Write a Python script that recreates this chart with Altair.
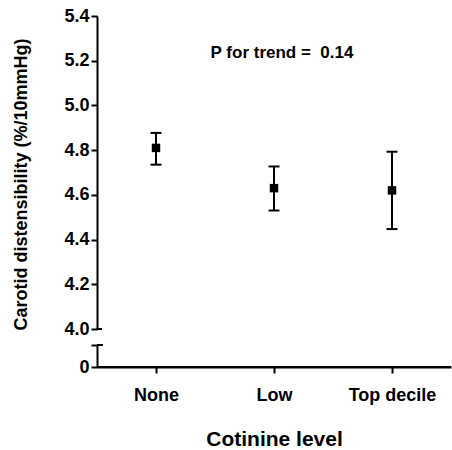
import altair as alt
import pandas as pd

# Data
CATEGORIES = ["None", "Low", "Top decile"]
MEANS = [4.81, 4.63, 4.62]
LOWER = [4.735, 4.53, 4.447]
UPPER = [4.877, 4.727, 4.793]

Y_TICKS = [4.0, 4.1, 4.2, 4.3, 4.4, 4.5, 4.6, 4.7, 4.8, 4.9, 5.0, 5.1, 5.2, 5.3, 5.4]
BREAK_TICKS = [0, 1]
ANNOT_TEXT = ["P for trend =\u00a0 0.14"]
ANNOT_CAT = ["Low"]
ANNOT_Y = [5.235]

X_TITLE = "Cotinine level"
Y_TITLE = "Carotid distensibility (%/10mmHg)"

FONT = "Liberation Sans"

df = pd.DataFrame({"cat": CATEGORIES, "mean": MEANS, "lo": LOWER, "hi": UPPER})
ann = pd.DataFrame({"text": ANNOT_TEXT, "cat": ANNOT_CAT, "y": ANNOT_Y})

W = 354
xscale = alt.Scale(type="point", domain=CATEGORIES, padding=0.5)
yscale = alt.Scale(domain=[4.0, 5.4], nice=False, zero=False)

y_axis = alt.Axis(
    values=Y_TICKS,
    labelExpr="round(datum.value*10) % 2 == 0 ? format(datum.value, '.1f') : ''",
    tickSize={"condition": {"test": "round(datum.value*10) % 2 == 0", "value": 6}, "value": 3},
    title=Y_TITLE,
    titleFontSize=18,
    titlePadding=33,
    titleY=168,
    labelFontSize=18,
    labelPadding=2,
)

base = alt.Chart(df)
xenc = alt.X("cat:O", sort=CATEGORIES, scale=xscale, axis=None)

rules = base.mark_rule(color="black", strokeWidth=2).encode(
    x=xenc,
    y=alt.Y("lo:Q", scale=yscale, axis=y_axis),
    y2="hi:Q",
)
caps_lo = base.mark_tick(color="black", size=11, thickness=2, opacity=1).encode(
    x=xenc, y=alt.Y("lo:Q", scale=yscale)
)
caps_hi = base.mark_tick(color="black", size=11, thickness=2, opacity=1).encode(
    x=xenc, y=alt.Y("hi:Q", scale=yscale)
)
points = base.mark_square(color="black", size=72, opacity=1).encode(
    x=xenc, y=alt.Y("mean:Q", scale=yscale)
)
annot = alt.Chart(ann).mark_text(
    font=FONT, fontWeight="bold", fontSize=17, color="black", dx=8
).encode(x=xenc, y=alt.Y("y:Q", scale=yscale), text="text:N")
break_cap_top = alt.Chart(df).mark_rule(color="black", strokeWidth=2).encode(
    x=alt.value(0), x2=alt.value(5), y=alt.Y(datum=4.0, type="quantitative", scale=yscale)
)

top = alt.layer(rules, caps_lo, caps_hi, points, annot, break_cap_top).properties(
    width=W, height=313
)

bscale = alt.Scale(domain=[0, 1], nice=False)
bottom_pts = alt.Chart(df).mark_point(opacity=0).encode(
    x=alt.X(
        "cat:O",
        sort=CATEGORIES,
        scale=xscale,
        axis=alt.Axis(
            title=X_TITLE,
            domain=True,
            labelAngle=0,
            labelFontSize=18,
            labelPadding=13,
            titleFontSize=21,
            titlePadding=24,
            tickSize=6,
        ),
    ),
    y=alt.Y(
        datum=0,
        type="quantitative",
        scale=bscale,
        axis=alt.Axis(
            values=BREAK_TICKS,
            labelExpr="datum.value == 0 ? '0' : ''",
            tickSize=6,
            title=None,
            labelFontSize=18,
            labelPadding=2,
        ),
    ),
)
bottom_cap = alt.Chart(df).mark_rule(color="black", strokeWidth=2).encode(
    x=alt.value(0), x2=alt.value(6), y=alt.Y(datum=1, type="quantitative", scale=bscale)
)
x_line = alt.Chart(df).mark_rule(color="black", strokeWidth=2).encode(
    x=alt.value(0), x2=alt.value(W), y=alt.Y(datum=0, type="quantitative", scale=bscale)
)
bottom = alt.layer(bottom_pts, bottom_cap, x_line).properties(width=W, height=22)

chart = (
    alt.vconcat(top, bottom, spacing=6)
    .properties(padding={"left": 12, "top": 7, "right": 0, "bottom": 0})
    .configure_view(stroke=None)
    .configure_axis(
        labelFont=FONT,
        titleFont=FONT,
        labelFontWeight="bold",
        titleFontWeight="bold",
        labelColor="black",
        titleColor="black",
        domainColor="black",
        tickColor="black",
        domainWidth=2,
        tickWidth=2,
        grid=False,
    )
)

chart.save("out.html", embed_options={"renderer": "svg", "actions": False})
